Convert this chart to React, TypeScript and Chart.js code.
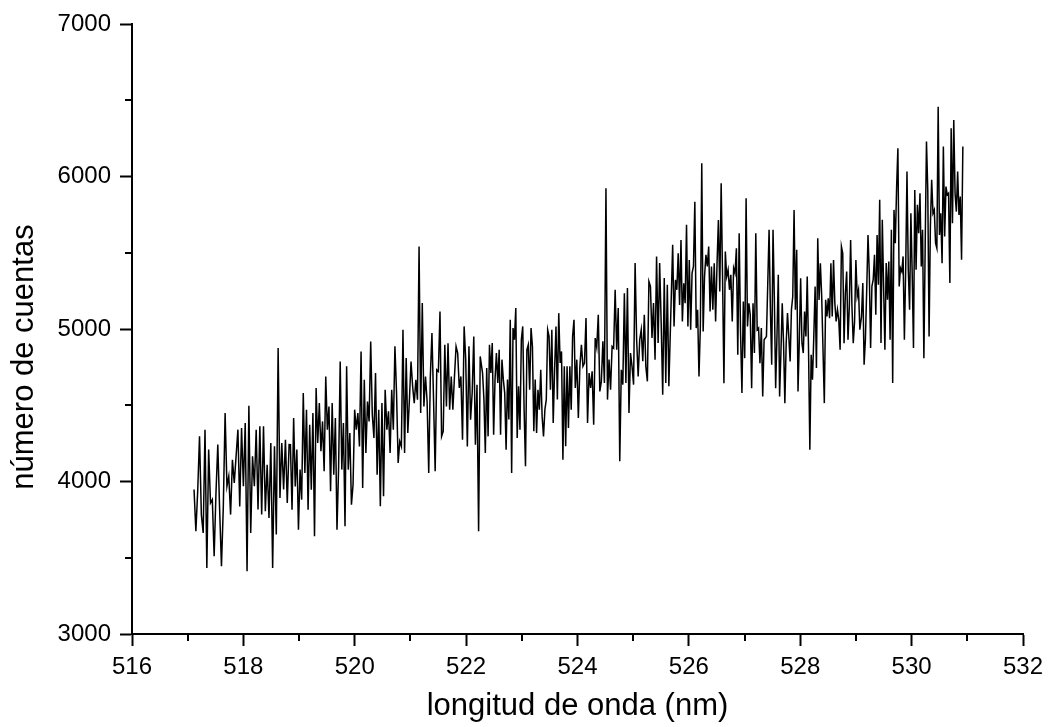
import React, { useEffect, useRef } from "react";
import { Chart, registerables } from "chart.js";

Chart.register(...registerables);

// Wavelength ranges (nm) covered by each block of readings below
const SEGMENT_RANGES: [number, number][] = [
  [517.114, 518.821],
  [518.845, 520.546],
  [520.577, 522.253],
  [522.295, 523.937],
  [523.96, 525.668],
  [525.709, 527.351],
  [527.393, 529.07],
  [529.1, 530.92],
];

// Counts ("número de cuentas"), block by block
const COUNTS_A = [3947, 3674, 3936, 4296, 3783, 3663, 4340, 3433, 4209, 3859, 3881, 3510, 3925, 4242, 3816, 3444, 3827, 4449, 3969, 4034, 3783, 4143, 3990, 4165, 4340, 3837, 4351, 3969, 4383, 3412, 4497, 3663, 4165, 3969, 4340, 3816, 4362, 3783, 4362, 3805, 4110, 3761, 4252, 3433, 4231, 3652, 4875, 3892, 4252, 3947, 4274, 3859, 4242];
const COUNTS_B = [4241, 3815, 4416, 3968, 4209, 3684, 4078, 3881, 4580, 4056, 4471, 3815, 4372, 3946, 4449, 3641, 4613, 4252, 4514, 4198, 4394, 4067, 4689, 4340, 4492, 3936, 4514, 4045, 4416, 3684, 4088, 4787, 4078, 4383, 3706, 4755, 4078, 4318, 3848, 3979, 4471, 4340, 4449, 4230, 4853, 3957, 4667, 4187, 4525, 4394, 4918, 4438, 4285, 4711, 4045, 4471, 3837, 4514, 3903, 4602];
const COUNTS_C = [4340, 4460, 4187, 4602, 4340, 4886, 4580, 4121, 4263, 4230, 4995, 4187, 4809, 4318, 4536, 4787, 4624, 4514, 4667, 4536, 5541, 4449, 5170, 4492, 4689, 4525, 4056, 4689, 4973, 4536, 4067, 4733, 4722, 5115, 4296, 4329, 4897, 4492, 4907, 4471, 4689, 4471, 4689, 4886, 4842, 4613, 4689, 4274, 5017, 4798, 4230, 4886, 4405, 4580, 4951, 4241, 4634, 3673, 4820];
const COUNTS_D = [4711, 4537, 4187, 4744, 4296, 4897, 4711, 4908, 4307, 4668, 4842, 4646, 4864, 4307, 4799, 4668, 4580, 4209, 4668, 4406, 5061, 4056, 5006, 4930, 5137, 4285, 4624, 4340, 4930, 5017, 4471, 4100, 4864, 4897, 4602, 5006, 4886, 4329, 4668, 4318, 4602, 4471, 4733, 4427, 4296, 4471, 4537, 4995, 4952, 4602, 4995, 4384, 4733, 5017, 4537, 5104, 4777, 4853, 4143, 4755, 4231, 4755, 4351, 4755, 4471, 4952, 5061];
const COUNTS_E = [4613, 4799, 4416, 4755, 4897, 4755, 4777, 5072, 4384, 4711, 4613, 4722, 4373, 4941, 4880, 5093, 4591, 4657, 4919, 4646, 5923, 4537, 4799, 4602, 4886, 4875, 5257, 4864, 5137, 4133, 4733, 4635, 5235, 4646, 5268, 4449, 4842, 4755, 4635, 5432, 4930, 4689, 4930, 4995, 4788, 5093, 4755, 4657, 5312, 5279, 4941, 5170, 4799, 5476, 4908, 5432, 5039, 4569, 5334, 4646, 5290, 4624, 4995];
const COUNTS_F = [5552, 5016, 5322, 5257, 5497, 5158, 5584, 5049, 5300, 5169, 5683, 5016, 5453, 4995, 5366, 5410, 5835, 5006, 5126, 4689, 5027, 6087, 4984, 5344, 5486, 5410, 5541, 5115, 5410, 5126, 5431, 5049, 5421, 5715, 5246, 5956, 5344, 4645, 5508, 5344, 5388, 5257, 5355, 5049, 5399, 5366, 5530, 4831, 5628, 4973, 4580, 5180, 4809, 5857, 5016, 5169, 5093, 4612, 5169, 4842, 5628, 4995, 5006, 4776, 5006, 4558, 4929];
const COUNTS_G = [4951, 5300, 5650, 5126, 4765, 5650, 5202, 4612, 4951, 5355, 4558, 4842, 5169, 4907, 4514, 4907, 5104, 4951, 4787, 5126, 5213, 5781, 5126, 5519, 4591, 4929, 5333, 4907, 4842, 5115, 4951, 5344, 4864, 4208, 4831, 4667, 4951, 5279, 4744, 5595, 5191, 5431, 5213, 4864, 4514, 5191, 5082, 5202, 5071, 5431, 5082, 5453, 5169, 5049, 5126, 5060, 4864, 5541, 5497, 4907, 5235, 5377, 4929, 5148, 5584, 5148, 4907, 5049, 5453, 5213, 5257, 4995];
const COUNTS_H = [5082, 5301, 4766, 4930, 5257, 5617, 5366, 4875, 5279, 5323, 5486, 5093, 5617, 5290, 5847, 4908, 5716, 5279, 4864, 5432, 5192, 5443, 4930, 5650, 4646, 5781, 5563, 5923, 6185, 5279, 5399, 5377, 5476, 4930, 5388, 6032, 5388, 5126, 5759, 5366, 4875, 5912, 5388, 5814, 5628, 5890, 5410, 5650, 4809, 5541, 6229, 5912, 4951, 5672, 5978, 5759, 5781, 5563, 5530, 6458, 5617, 5759, 5432, 6196, 5607, 5934, 5880, 5890, 5301, 6316, 5694, 6371, 5890, 5770, 6032, 5748, 5868, 5454, 6196];

const COUNT_BLOCKS = [COUNTS_A, COUNTS_B, COUNTS_C, COUNTS_D, COUNTS_E, COUNTS_F, COUNTS_G, COUNTS_H];

const X_TICKS = [516, 518, 520, 522, 524, 526, 528, 530, 532];
const X_MINOR = [517, 519, 521, 523, 525, 527, 529, 531];
const Y_TICKS = [3000, 4000, 5000, 6000, 7000];
const Y_MINOR = [3500, 4500, 5500, 6500];

const X_TITLE = "longitud de onda (nm)";
const Y_TITLE = "número de cuentas";

const FONT = "'Liberation Sans', Arial, Helvetica, sans-serif";

function buildPoints() {
  const pts: { x: number; y: number }[] = [];
  COUNT_BLOCKS.forEach((block, k) => {
    const [a, b] = SEGMENT_RANGES[k];
    const n = block.length;
    block.forEach((v, j) => {
      pts.push({ x: a + ((b - a) * j) / (n - 1), y: v });
    });
  });
  return pts;
}

const decorPlugin = {
  id: "decor",
  afterDraw(chart: any) {
    const { ctx, chartArea, scales } = chart;
    const xs = scales.x;
    const ys = scales.y;
    ctx.save();
    ctx.strokeStyle = "#000";
    ctx.lineWidth = 2;
    ctx.beginPath();
    X_MINOR.forEach((v) => {
      const px = Math.round(xs.getPixelForValue(v));
      ctx.moveTo(px, chartArea.bottom);
      ctx.lineTo(px, chartArea.bottom + 7);
    });
    Y_MINOR.forEach((v) => {
      const py = Math.round(ys.getPixelForValue(v));
      ctx.moveTo(chartArea.left - 7, py);
      ctx.lineTo(chartArea.left, py);
    });
    ctx.stroke();

    ctx.fillStyle = "#000";
    ctx.font = `31px ${FONT}`;
    ctx.textAlign = "center";
    ctx.textBaseline = "alphabetic";
    ctx.fillText(X_TITLE, (chartArea.left + chartArea.right) / 2, chartArea.bottom + 81);

    ctx.translate(chartArea.left - 99, (chartArea.top + chartArea.bottom) / 2 + 28);
    ctx.rotate(-Math.PI / 2);
    ctx.fillText(Y_TITLE, 0, 0);
    ctx.restore();
  },
};

export default function App() {
  const ref = useRef<HTMLCanvasElement | null>(null);

  useEffect(() => {
    document.body.style.margin = "0";
    if (!ref.current) return;
    const chart = new Chart(ref.current, {
      type: "line",
      data: {
        datasets: [
          {
            data: buildPoints(),
            borderColor: "#000",
            borderWidth: 1.5,
            pointRadius: 0,
            tension: 0,
            fill: false,
          },
        ],
      },
      options: {
        animation: false,
        responsive: false,
        devicePixelRatio: 1,
        parsing: false,
        normalized: true,
        layout: { padding: { top: 24, right: 31, left: 0, bottom: 0 } },
        plugins: { legend: { display: false }, tooltip: { enabled: false } },
        scales: {
          x: {
            type: "linear",
            min: 516,
            max: 532,
            afterBuildTicks: (s: any) => {
              s.ticks = X_TICKS.map((v) => ({ value: v }));
            },
            afterFit: (s: any) => {
              s.height = 93;
            },
            ticks: {
              color: "#000",
              font: { size: 24, family: FONT },
              padding: 7,
              maxRotation: 0,
              autoSkip: false,
              callback: (v: any) => String(v),
            },
            grid: {
              drawOnChartArea: false,
              drawTicks: true,
              tickLength: 12,
              tickWidth: 2,
              tickColor: "#000",
            },
            border: { display: true, color: "#000", width: 2 },
          },
          y: {
            type: "linear",
            min: 3000,
            max: 7000,
            afterBuildTicks: (s: any) => {
              s.ticks = Y_TICKS.map((v) => ({ value: v }));
            },
            afterFit: (s: any) => {
              s.width = 132;
            },
            ticks: {
              color: "#000",
              font: { size: 24, family: FONT },
              padding: 9,
              autoSkip: false,
              callback: (v: any) => String(v),
            },
            grid: {
              drawOnChartArea: false,
              drawTicks: true,
              tickLength: 12,
              tickWidth: 2,
              tickColor: "#000",
            },
            border: { display: true, color: "#000", width: 2 },
          },
        },
      },
      plugins: [decorPlugin],
    });
    return () => chart.destroy();
  }, []);

  return (
    <div style={{ position: "absolute", left: 0, top: 0, width: 1054, height: 727, background: "#fff" }}>
      <canvas ref={ref} width={1054} height={727} style={{ display: "block" }} />
    </div>
  );
}
